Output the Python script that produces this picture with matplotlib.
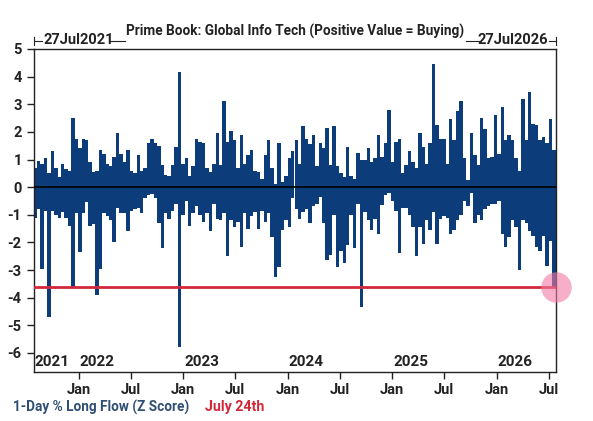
import matplotlib
matplotlib.use("Agg")
import matplotlib.pyplot as plt
import matplotlib.dates as mdates
import numpy as np
import datetime as dt

plt.rcParams['axes.unicode_minus'] = False
FONT = ['Liberation Sans Narrow', 'Roboto', 'DejaVu Sans']
plt.rcParams['font.family'] = FONT

# ---- data (12-day buckets from 27 Jul 2021; upper / lower envelope of daily Z scores) ----
start_date = dt.date(2021, 7, 27)
end_date = dt.date(2026, 7, 25)
bucket_days = 12

upper = [0.7, 0.95, 0.85, 1.05, 0.5, 1.3, 0.7, 0.35, 0.85, 0.65,
         0.6, 2.5, 1.75, 1.4, 1.75, 1.7, 0.9, 0.55, 0.6, 1.35,
         1.2, 0.85, 0.75, 1.1, 1.95, 1.2, 0.9, 1.35, 0.6, 0.5,
         1.15, 0.6, 0.7, 1.6, 1.75, 1.6, 1.5, 0.8,
         0.45, 0.4, 0.8, 1.45, 4.15, 0.85, 1.05, 0.4, 0.75, 1.75,
         1.65, 1.6, 0.7, 0.55, 0.85, 1.95, 0.8, 3.1, 1.65, 2.05,
         1.7, 0.7, 1.9, 0.85, 1.15, 1.35, 0.6, 0.55, 0.3, 1.15,
         1.7, 0.7, 0.1, 1.6, 0.2, 0.4, 1.05, 1.3,
         1.7, 0.85, 2.2, 1.75, 1.55, 1.9, 0.75, 1.6, 1.4, 2.15,
         0.8, 2.2, 0.75, 0.5, 0.35, 1.45, 0.4, 0.3, 1.25, 1.0,
         1.0, 1.4, 0.9, 1.05, 1.9, 1.1, 1.6, 2.8, 0.9, 1.65,
         1.75, 0.5, 0.8, 1.3, 0.9, 0.7, 1.95, 1.45,
         0.85, 1.6, 4.45, 2.25, 1.75, 1.75, 0.85, 2.45, 1.7, 2.75,
         3.1, 1.05, 0.25, 1.95, 1.15, 0.8, 2.5, 2.1, 1.05, 1.1,
         2.6, 1.2, 2.9, 1.7, 1.9, 1.7, 1.05, 0.6, 3.2, 1.7,
         3.45, 2.3, 2.25, 1.7, 1.8, 1.6, 2.45, 1.35]

lower = [-1.1, -0.8, -2.95, -0.85, -4.7, -0.85, -1.0, -1.1, -0.9, -1.1,
         -1.4, -3.6, -0.95, -2.35, -0.95, -0.55, -1.4, -1.35, -3.9, -2.95,
         -0.95, -1.05, -1.2, -2.0, -0.75, -0.95, -0.95, -1.6, -0.85, -0.8,
         -0.75, -0.95, -0.4, -0.3, -0.25, -0.4, -1.3, -2.2,
         -0.95, -1.15, -0.85, -0.6, -5.8, -1.0, -0.5, -1.4, -0.95, -0.7,
         -1.0, -1.25, -0.95, -1.6, -0.6, -1.15, -1.2, -0.95, -2.5, -1.2,
         -1.45, -1.25, -2.15, -0.95, -1.5, -1.05, -0.9, -1.5, -0.85, -1.25,
         -0.95, -1.8, -3.25, -2.9, -1.55, -1.2, -1.45, -0.4,
         -0.8, -1.15, -0.9, -0.8, -1.3, -0.7, -0.6, -0.35, -1.3, -2.65,
         -2.45, -1.0, -2.9, -2.3, -2.75, -2.1, -1.0, -2.2, -0.6, -4.35,
         -0.9, -1.2, -1.55, -1.15, -1.7, -0.65, -0.3, -0.2, -0.5, -0.85,
         -2.4, -0.75, -0.75, -1.0, -1.45, -2.5, -1.45, -2.05,
         -1.2, -1.55, -0.9, -2.05, -1.15, -1.05, -1.1, -1.7, -1.55, -1.2,
         -1.0, -0.5, -0.7, -0.2, -1.3, -1.0, -1.2, -0.8, -0.7, -0.6,
         -0.6, -0.5, -1.7, -2.15, -1.8, -1.2, -1.45, -3.0, -1.2, -1.3,
         -1.6, -1.75, -2.15, -2.3, -1.75, -2.85, -1.95, -3.6]

latest_value = -3.6
year_labels = ['2021', '2022', '2023', '2024', '2025', '2026']
title = 'Prime Book: Global Info Tech (Positive Value = Buying)'
legend_series = '1-Day % Long Flow (Z Score)'
legend_latest = 'July 24th'

NAVY = '#0c3d7a'
RED = '#d2283a'

fig = plt.figure(figsize=(5.93, 4.21), dpi=100)
ax = fig.add_axes([33.5/593, 1-372/421, 522/593, 323/421])

x0 = mdates.date2num(start_date)
xs = [x0 + i*bucket_days for i in range(len(upper))]
ax.bar(xs, upper, width=bucket_days, align='edge', color=NAVY, linewidth=0)
ax.bar(xs, lower, width=bucket_days, align='edge', color=NAVY, linewidth=0)
ax.axhline(0, color='black', lw=1.2, zorder=3)
ax.axhline(latest_value, color=RED, lw=2.0, zorder=4)

xmax = mdates.date2num(end_date)
ax.set_xlim(x0, xmax)
ax.set_ylim(-6.69, 5)
ax.scatter([xmax], [latest_value], s=480, color='#f27ba6', alpha=0.6,
           clip_on=False, zorder=5, linewidths=0)

ax.set_yticks(range(-6, 6))
ax.set_yticklabels([str(v) for v in range(-6, 6)])
ax.xaxis.set_major_locator(mdates.MonthLocator(bymonth=[1, 7]))
ax.xaxis.set_major_formatter(mdates.DateFormatter('%b'))
ax.tick_params(axis='both', direction='out', length=5, width=1, color='#222222',
               labelsize=10.5, labelcolor='#222222')
ax.tick_params(axis='x', pad=3)
for lab in ax.get_xticklabels() + ax.get_yticklabels():
    lab.set_fontweight('bold')
for sp in ax.spines.values():
    sp.set_color('#222222')
    sp.set_linewidth(1.0)

# year labels inside bottom of plot
for yl in year_labels:
    d = max(dt.date(int(yl), 1, 1), start_date)
    ax.text(mdates.date2num(d) + 4, -6.34, yl, fontsize=11, fontweight='bold',
            color='#222222', va='center', ha='left')

# title and date range annotations
fig.text(295/593, 1-31/421, title, fontsize=9.8, fontweight='bold', color='#222222',
         ha='center', va='center')
fig.text(43/593, 1-40/421, start_date.strftime('%d%b%Y'), fontsize=10.5, fontweight='bold',
         color='#222222', ha='left', va='center')
fig.text(548/593, 1-40/421, '27Jul2026', fontsize=10.5, fontweight='bold',
         color='#222222', ha='right', va='center')
yl_ = 1-41/421
fig.add_artist(plt.Line2D([33.5/593, 42/593], [yl_, yl_], color='#222222', lw=0.8))
fig.add_artist(plt.Line2D([33.5/593, 33.5/593], [yl_-4/421, yl_+4/421], color='#222222', lw=0.8))
fig.add_artist(plt.Line2D([110/593, 125/593], [yl_, yl_], color='#222222', lw=0.8))
fig.add_artist(plt.Line2D([466/593, 480/593], [yl_, yl_], color='#222222', lw=0.8))
fig.add_artist(plt.Line2D([549/593, 555.5/593], [yl_, yl_], color='#222222', lw=0.8))
fig.add_artist(plt.Line2D([555.5/593, 555.5/593], [yl_-4/421, yl_+4/421], color='#222222', lw=0.8))

# legend text
fig.text(13/593, 1-407/421, legend_series, fontsize=9.8, fontweight='bold',
         color='#2f4f73', ha='left', va='center')
fig.text(205/593, 1-407/421, legend_latest, fontsize=10.2, fontweight='bold',
         color=RED, ha='left', va='center')

fig.savefig('out.png', dpi=100)
